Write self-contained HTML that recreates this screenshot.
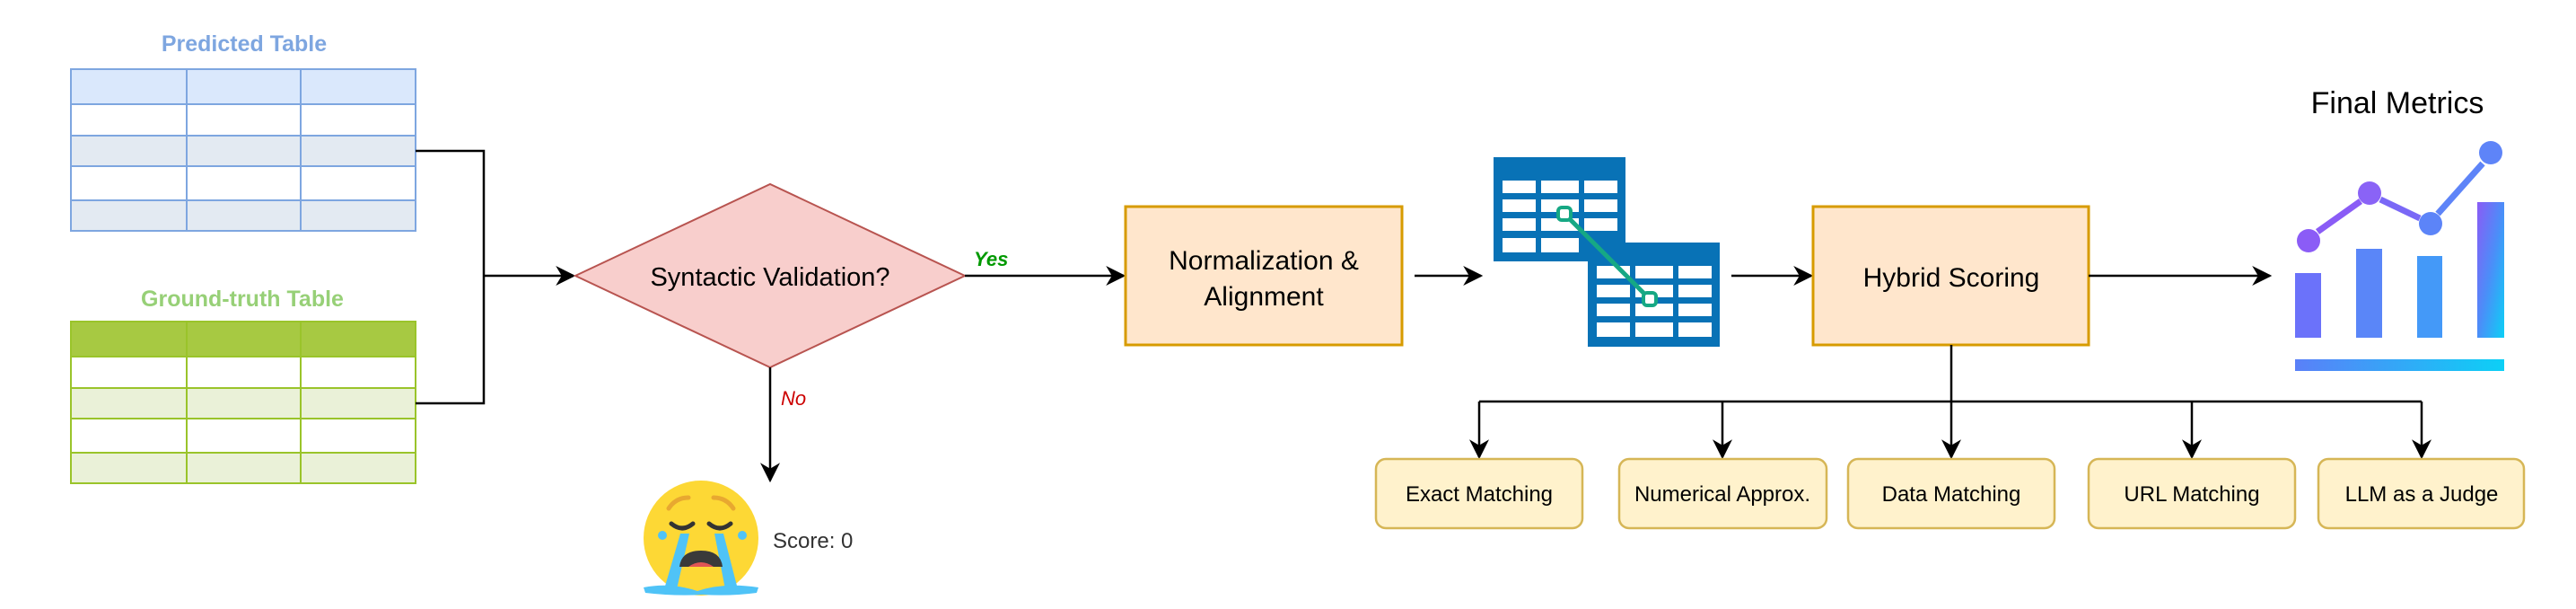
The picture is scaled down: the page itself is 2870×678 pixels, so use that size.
<!DOCTYPE html>
<html><head><meta charset="utf-8"><style>
html,body{margin:0;padding:0;background:#fff;}
svg{display:block;}
text{font-family:"Liberation Sans",sans-serif;}
</style></head><body>
<svg width="2870" height="678" viewBox="0 0 2870 678" xmlns="http://www.w3.org/2000/svg">
<defs>
<marker id="ar" viewBox="0 0 10 10" refX="9" refY="5" markerWidth="22" markerHeight="22" markerUnits="userSpaceOnUse" orient="auto">
<path d="M0,0 L10,5 L0,10 L3,5 z" fill="#000"/></marker>
<linearGradient id="g" x1="0" y1="0" x2="1" y2="1">
<stop offset="0" stop-color="#8a5cf6"/><stop offset="0.5" stop-color="#4b8ef8"/><stop offset="1" stop-color="#0cd0f6"/></linearGradient>
<linearGradient id="gh" x1="0" y1="0" x2="1" y2="0">
<stop offset="0" stop-color="#5a80f8"/><stop offset="1" stop-color="#0cd0f6"/></linearGradient>
</defs>

<text x="272" y="57" font-size="25" font-weight="bold" fill="#7ea6e0" text-anchor="middle">Predicted Table</text>
<g stroke="#7ea6e0" stroke-width="2">
<rect x="79" y="77" width="384" height="39" fill="#dae8fc"/>
<rect x="79" y="116" width="384" height="35" fill="#fff"/>
<rect x="79" y="151" width="384" height="34" fill="#e3eaf2"/>
<rect x="79" y="185" width="384" height="38" fill="#fff"/>
<rect x="79" y="223" width="384" height="34" fill="#e3eaf2"/>
<line x1="208" y1="77" x2="208" y2="257"/><line x1="335" y1="77" x2="335" y2="257"/>
</g>

<text x="270" y="341" font-size="25" font-weight="bold" fill="#97d077" text-anchor="middle">Ground-truth Table</text>
<g stroke="#9ac42a" stroke-width="2">
<rect x="79" y="358" width="384" height="39" fill="#a7c942"/>
<rect x="79" y="397" width="384" height="35" fill="#fff"/>
<rect x="79" y="432" width="384" height="34" fill="#eaf1d8"/>
<rect x="79" y="466" width="384" height="38" fill="#fff"/>
<rect x="79" y="504" width="384" height="34" fill="#eaf1d8"/>
<line x1="208" y1="358" x2="208" y2="538"/><line x1="335" y1="358" x2="335" y2="538"/>
</g>

<g stroke="#000" stroke-width="2.5" fill="none">
<polyline points="463,168 539,168 539,449 463,449"/>
<line x1="539" y1="307" x2="639" y2="307" marker-end="url(#ar)"/>
</g>

<polygon points="641,307 858,205 1075,307 858,409" fill="#f8cecc" stroke="#b85450" stroke-width="2"/>
<text x="858" y="318" font-size="29" text-anchor="middle" fill="#000">Syntactic Validation?</text>
<text x="1085" y="296" font-size="22" font-style="italic" font-weight="bold" fill="#009900">Yes</text>
<text x="870" y="451" font-size="22" font-style="italic" fill="#cc0000">No</text>
<g stroke="#000" stroke-width="2.5" fill="none">
<line x1="858" y1="409" x2="858" y2="535" marker-end="url(#ar)"/>
<line x1="1075" y1="307" x2="1252" y2="307" marker-end="url(#ar)"/>
</g>

<g>
<ellipse cx="781" cy="599" rx="64" ry="64" fill="#fdd835"/>
<path d="M745,566 q8,-12 22,-12" stroke="#e8a830" stroke-width="5" fill="none" stroke-linecap="round"/>
<path d="M817,566 q-8,-12 -22,-12" stroke="#e8a830" stroke-width="5" fill="none" stroke-linecap="round"/>
<path d="M748,583 q12,10 24,0" stroke="#333" stroke-width="5" fill="none" stroke-linecap="round"/>
<path d="M790,583 q12,10 24,0" stroke="#333" stroke-width="5" fill="none" stroke-linecap="round"/>
<path d="M758,594 l10,0 l-14,62 l-14,0 z" fill="#4fc3f7"/>
<path d="M796,594 l10,0 l16,62 l-14,0 z" fill="#4fc3f7"/>
<path d="M717,654 q30,-6 60,4 q30,-10 68,-4 l-2,6 q-30,4 -60,2 q-30,2 -64,-2 z" fill="#4fc3f7"/>
<path d="M757,631 q2,-18 24,-18 q22,0 24,18 z" fill="#3a3a3a"/>
<path d="M767,631 q14,-10 28,0 z" fill="#e05555"/>
<circle cx="738" cy="596" r="5" fill="#4fc3f7"/><circle cx="827" cy="596" r="5" fill="#4fc3f7"/>
</g>
<text x="861" y="610" font-size="24" fill="#333">Score: 0</text>

<rect x="1254" y="230" width="308" height="154" fill="#ffe6cc" stroke="#d79b00" stroke-width="3"/>
<text x="1408" y="300" font-size="30" text-anchor="middle" fill="#000">Normalization &amp;</text>
<text x="1408" y="340" font-size="30" text-anchor="middle" fill="#000">Alignment</text>
<line x1="1576" y1="307" x2="1650" y2="307" stroke="#000" stroke-width="2.5" marker-end="url(#ar)"/>

<g>
<rect x="1664" y="175" width="147" height="116" fill="#0872b6"/>
<g fill="#fff">
<rect x="1674" y="201" width="37" height="14"/><rect x="1717" y="201" width="42" height="14"/><rect x="1765" y="201" width="37" height="14"/>
<rect x="1674" y="222" width="37" height="14"/><rect x="1717" y="222" width="42" height="14"/><rect x="1765" y="222" width="37" height="14"/>
<rect x="1674" y="243" width="37" height="14"/><rect x="1717" y="243" width="42" height="14"/><rect x="1765" y="243" width="37" height="14"/>
<rect x="1674" y="265" width="37" height="16"/><rect x="1717" y="265" width="42" height="16"/>
</g>
<rect x="1769" y="270" width="147" height="116" fill="#0872b6"/>
<g fill="#fff">
<rect x="1779" y="296" width="37" height="14"/><rect x="1822" y="296" width="42" height="14"/><rect x="1870" y="296" width="37" height="14"/>
<rect x="1779" y="317" width="37" height="14"/><rect x="1822" y="317" width="42" height="14"/><rect x="1870" y="317" width="37" height="14"/>
<rect x="1779" y="338" width="37" height="14"/><rect x="1822" y="338" width="42" height="14"/><rect x="1870" y="338" width="37" height="14"/>
<rect x="1779" y="359" width="37" height="16"/><rect x="1822" y="359" width="42" height="16"/><rect x="1870" y="359" width="37" height="16"/>
</g>
<line x1="1743" y1="238" x2="1838" y2="333" stroke="#16a884" stroke-width="5"/>
<rect x="1736" y="231" width="14" height="14" rx="4" fill="#fff" stroke="#16a884" stroke-width="4"/>
<rect x="1831" y="326" width="14" height="14" rx="4" fill="#fff" stroke="#16a884" stroke-width="4"/>
</g>
<line x1="1929" y1="307" x2="2018" y2="307" stroke="#000" stroke-width="2.5" marker-end="url(#ar)"/>

<rect x="2020" y="230" width="307" height="154" fill="#ffe6cc" stroke="#d79b00" stroke-width="3"/>
<text x="2174" y="319" font-size="30" text-anchor="middle" fill="#000">Hybrid Scoring</text>
<line x1="2327" y1="307" x2="2529" y2="307" stroke="#000" stroke-width="2.5" marker-end="url(#ar)"/>

<text x="2671" y="126" font-size="34" text-anchor="middle" fill="#000">Final Metrics</text>
<g>
<rect x="2557" y="304" width="29" height="72" fill="#6b72fa"/>
<rect x="2625" y="277" width="29" height="99" fill="#5a86f8"/>
<rect x="2693" y="285" width="28" height="91" fill="#4499f8"/>
<rect x="2760" y="225" width="30" height="151" fill="url(#g)"/>
<rect x="2557" y="400" width="233" height="13" fill="url(#gh)"/>
<g stroke-width="7">
<line x1="2582" y1="258" x2="2630" y2="224" stroke="#8a5cf6"/>
<line x1="2652" y1="222" x2="2696" y2="243" stroke="#7a68f6"/>
<line x1="2716" y1="238" x2="2766" y2="182" stroke="#5e84f8"/>
</g>
<circle cx="2572" cy="268" r="13" fill="#8b5cf6"/>
<circle cx="2640" cy="215" r="13" fill="#8a63f6"/>
<circle cx="2708" cy="249" r="13" fill="#5c84f8"/>
<circle cx="2775" cy="170" r="13" fill="#5e84f8"/>
</g>

<g stroke="#000" stroke-width="2.5" fill="none">
<line x1="2174" y1="384" x2="2174" y2="509" marker-end="url(#ar)"/>
<line x1="1648" y1="447" x2="2698" y2="447"/>
<line x1="1648" y1="447" x2="1648" y2="509" marker-end="url(#ar)"/>
<line x1="1919" y1="447" x2="1919" y2="509" marker-end="url(#ar)"/>
<line x1="2442" y1="447" x2="2442" y2="509" marker-end="url(#ar)"/>
<line x1="2698" y1="447" x2="2698" y2="509" marker-end="url(#ar)"/>
</g>
<g fill="#fff2cc" stroke="#d6b656" stroke-width="2.5">
<rect x="1533" y="511" width="230" height="77" rx="11"/>
<rect x="1804" y="511" width="231" height="77" rx="11"/>
<rect x="2059" y="511" width="230" height="77" rx="11"/>
<rect x="2327" y="511" width="230" height="77" rx="11"/>
<rect x="2583" y="511" width="229" height="77" rx="11"/>
</g>
<g font-size="24" text-anchor="middle" fill="#000">
<text x="1648" y="558">Exact Matching</text>
<text x="1919" y="558">Numerical Approx.</text>
<text x="2174" y="558">Data Matching</text>
<text x="2442" y="558">URL Matching</text>
<text x="2698" y="558">LLM as a Judge</text>
</g>
</svg>
</body></html>
